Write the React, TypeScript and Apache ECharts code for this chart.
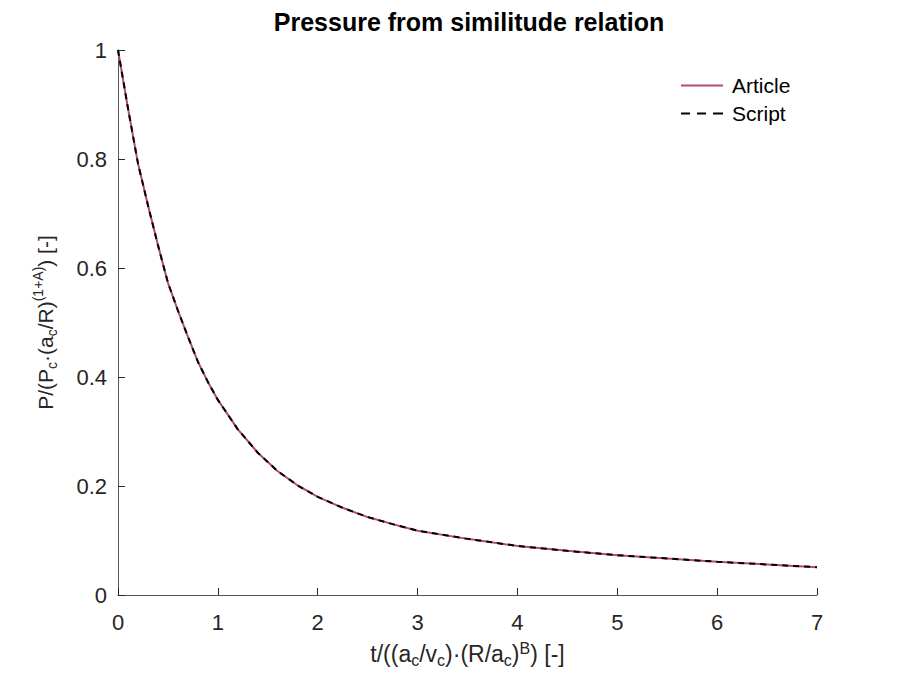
import React, { useEffect, useRef } from "react";
import * as echarts from "echarts";

const xValues = [0, 0.1, 0.2, 0.3, 0.4, 0.5, 0.6, 0.7, 0.8, 0.9, 1.0, 1.2, 1.4, 1.6, 1.8, 2.0, 2.25, 2.5, 2.75, 3.0, 3.5, 4.0, 4.5, 5.0, 5.5, 6.0, 6.5, 7.0];
const articleValues = [1.0, 0.893, 0.792, 0.715, 0.642, 0.573, 0.522, 0.474, 0.428, 0.391, 0.358, 0.304, 0.261, 0.227, 0.201, 0.18, 0.16, 0.143, 0.13, 0.118, 0.103, 0.09, 0.081, 0.073, 0.067, 0.061, 0.056, 0.051];
const scriptValues = [1.0, 0.893, 0.792, 0.715, 0.642, 0.573, 0.522, 0.474, 0.428, 0.391, 0.358, 0.304, 0.261, 0.227, 0.201, 0.18, 0.16, 0.143, 0.13, 0.118, 0.103, 0.09, 0.081, 0.073, 0.067, 0.061, 0.056, 0.051];
const seriesNames = ["Article", "Script"];
const titleText = "Pressure from similitude relation";

const FONT = "'Liberation Sans', Arial, Helvetica, sans-serif";
const TXT = "#262626";
const PINK = "#b5496f";

export default function App() {
  const ref = useRef<HTMLDivElement>(null);
  useEffect(() => {
    if (!ref.current) return;
    const chart = echarts.init(ref.current, null, { renderer: "svg" });
    const mk = (size: number, sub: number) => ({
      n: { fontSize: size, fontFamily: FONT, color: TXT, lineHeight: 28, verticalAlign: "middle" as const },
      s: { fontSize: sub, fontFamily: FONT, color: TXT, lineHeight: sub, verticalAlign: "bottom" as const },
      p: { fontSize: sub, fontFamily: FONT, color: TXT, lineHeight: sub, verticalAlign: "top" as const },
    });
    chart.setOption({
      animation: false,
      backgroundColor: "#ffffff",
      title: {
        text: titleText,
        left: 464,
        top: 4,
        textAlign: "center",
        textStyle: { fontSize: 25, fontWeight: "bold", fontFamily: FONT, color: "#000" },
      },
      legend: {
        orient: "vertical",
        left: 676,
        top: 70,
        itemWidth: 42,
        itemHeight: 14,
        itemGap: 7,
        textStyle: { fontSize: 21, fontFamily: FONT, color: "#000", padding: [0, 0, 0, 4] },
        data: [
          { name: seriesNames[0], icon: "path://M0,0 L42,0 L42,2 L0,2 Z", itemStyle: { color: PINK } },
          {
            name: seriesNames[1],
            icon: "path://M0,0 L9,0 L9,2 L0,2 Z M16,0 L25,0 L25,2 L16,2 Z M32,0 L42,0 L42,2 L32,2 Z",
            itemStyle: { color: "#000" },
          },
        ],
      },
      grid: { left: 118, right: 85, top: 50, bottom: 76, containLabel: false },
      xAxis: {
        type: "value",
        min: 0,
        max: 7,
        interval: 1,
        name: "{n|t/((a}{s|c}{n|/v}{s|c}{n|)·(R/a}{s|c}{n|)}{p|B}{n|) [-]}",
        nameLocation: "middle",
        nameGap: 45,
        nameTextStyle: { rich: mk(23, 16) },
        axisLine: { lineStyle: { color: "#555", width: 1 } },
        axisTick: { inside: true, length: 7, lineStyle: { color: "#262626" } },
        axisLabel: { fontSize: 22, fontFamily: FONT, color: TXT, margin: 16 },
        splitLine: { show: false },
      },
      yAxis: {
        type: "value",
        min: 0,
        max: 1,
        interval: 0.2,
        name: "{n|P/(P}{s|c}{n|·(a}{s|c}{n|/R)}{p|(1+A)}{n|) [-]}",
        nameLocation: "middle",
        nameGap: 59,
        nameRotate: 90,
        nameTextStyle: { rich: mk(21, 14) },
        axisLine: { show: true, lineStyle: { color: "#555", width: 1 } },
        axisTick: { show: true, inside: true, length: 7, lineStyle: { color: "#262626" } },
        axisLabel: { fontSize: 22, fontFamily: FONT, color: TXT, margin: 11 },
        splitLine: { show: false },
      },
      series: [
        {
          name: seriesNames[0],
          type: "line",
          data: xValues.map((x, i) => [x, articleValues[i]]),
          symbol: "none",
          lineStyle: { color: PINK, width: 2 },
          itemStyle: { color: PINK },
        },
        {
          name: seriesNames[1],
          type: "line",
          data: xValues.map((x, i) => [x, scriptValues[i]]),
          symbol: "none",
          lineStyle: { color: "#000", width: 2, type: [6, 5] },
          itemStyle: { color: "#000" },
        },
      ],
    });
    return () => chart.dispose();
  }, []);
  return <div ref={ref} style={{ position: "fixed", left: 0, top: 0, width: 902, height: 673 }} />;
}
